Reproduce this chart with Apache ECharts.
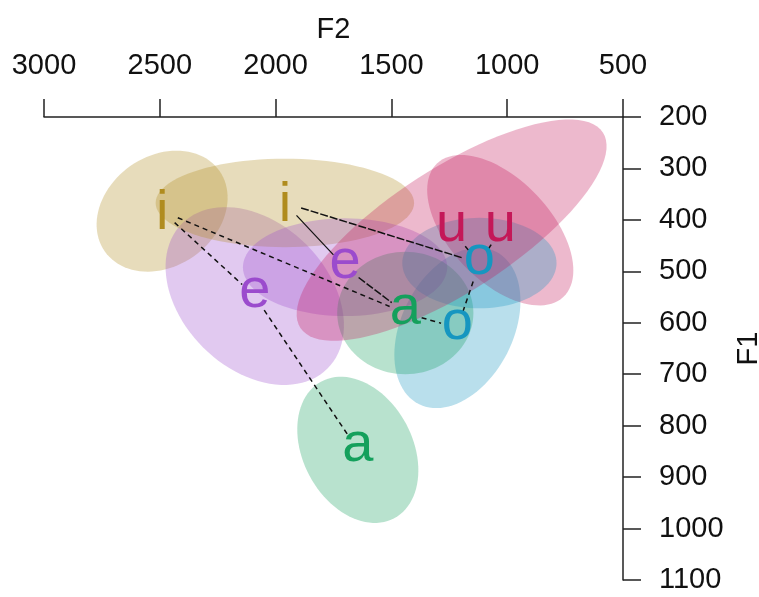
<!DOCTYPE html>
<html>
<head>
<meta charset="utf-8">
<script src="https://cdn.jsdelivr.net/npm/echarts@6/dist/echarts.min.js"></script>
<style>
  html, body { margin: 0; padding: 0; background: #fff; }
  #chart { width: 759px; height: 597px; }
</style>
</head>
<body>
<div id="chart"></div>
<script>
// Vowel space: mean F2/F1 per vowel for two sets (A and B)
const vowelLabels = ['i', 'e', 'a', 'o', 'u'];

const f2A = [2490, 2090, 1645, 1215, 1030];
const f1A = [383, 548, 847, 610, 420];
const f2B = [1960, 1700, 1440, 1120, 1240];
const f1B = [367, 492, 581, 484, 420];

// Ellipse half-axes (data units, [dF2, dF1]) per vowel
const majorA = [[-248, -78], [-314, 141], [-157, 133], [-167, -148], [-272, 130]];
const minorA = [[-136, 88], [223, 100], [-209, -50], [-215, 49], [160, 67]];
const majorB = [[-558, 0], [-441, 0], [-294, 0], [-333, 0], [-653, -190]];
const minorB = [[0, 86], [0, 95], [0, 119], [0, 88], [-146, 101]];

// Connections between vowel means: [set, index, set, index]
const dashedLinks = [
  ['A', 0, 'A', 1], ['A', 1, 'A', 2], ['A', 0, 'B', 2],
  ['B', 2, 'A', 3], ['A', 3, 'B', 3], ['B', 3, 'B', 4], ['B', 3, 'A', 4]
];
const longDashLinks = [['B', 0, 'B', 3], ['B', 1, 'B', 2]];
const solidLinks = [['B', 0, 'B', 1]];

// Axis ticks
const f2Ticks = [500, 3000, 500];   // min, max, step
const f1Ticks = [200, 1100, 100];

const vowelColors = {
  i: [176, 140, 30],
  e: [155, 75, 205],
  a: [20, 160, 92],
  o: [22, 150, 192],
  u: [196, 24, 88]
};

const sets = { A: { f2: f2A, f1: f1A }, B: { f2: f2B, f1: f1B } };
function pt(set, idx) { return [sets[set].f2[idx], sets[set].f1[idx]]; }

const ellipseData = [];
[['A', majorA, minorA], ['B', majorB, minorB]].forEach(([s, maj, min]) => {
  vowelLabels.forEach((v, k) => {
    const p = pt(s, k);
    ellipseData.push([p[0], p[1], maj[k][0], maj[k][1], min[k][0], min[k][1], k]);
  });
});

function linkData(list) {
  return list.map(l => { const a = pt(l[0], l[1]); const b = pt(l[2], l[3]); return [a[0], a[1], b[0], b[1]]; });
}

const labelData = [];
['A', 'B'].forEach(s => vowelLabels.forEach((v, k) => { const p = pt(s, k); labelData.push([p[0], p[1], k]); }));

function rgba(c, a) { return 'rgba(' + c[0] + ',' + c[1] + ',' + c[2] + ',' + a + ')'; }

function renderEllipse(params, api) {
  const cx = api.value(0), cy = api.value(1);
  const ax = api.value(2), ay = api.value(3), bx = api.value(4), by = api.value(5);
  const v = vowelLabels[api.value(6)];
  const pts = [];
  const n = 96;
  for (let i = 0; i < n; i++) {
    const t = i / n * Math.PI * 2;
    const c = Math.cos(t), s = Math.sin(t);
    pts.push(api.coord([cx + c * ax + s * bx, cy + c * ay + s * by]));
  }
  return { type: 'polygon', shape: { points: pts }, style: { fill: rgba(vowelColors[v], 0.3), stroke: null } };
}

function makeLinkRenderer(dash, width) {
  return function (params, api) {
    const p1 = api.coord([api.value(0), api.value(1)]);
    const p2 = api.coord([api.value(2), api.value(3)]);
    const dx = p2[0] - p1[0], dy = p2[1] - p1[1];
    const len = Math.sqrt(dx * dx + dy * dy);
    const gap = 17;
    const ux = dx / len, uy = dy / len;
    return {
      type: 'line',
      shape: { x1: p1[0] + ux * gap, y1: p1[1] + uy * gap, x2: p2[0] - ux * gap, y2: p2[1] - uy * gap },
      style: { stroke: '#111', lineWidth: width, lineDash: dash }
    };
  };
}

function renderLabel(params, api) {
  const p = api.coord([api.value(0), api.value(1)]);
  const v = vowelLabels[api.value(2)];
  const fs = 56;
  const shift = v === 'i' ? 0.05 * fs : -0.08 * fs;
  return {
    type: 'text',
    x: p[0], y: p[1] + shift,
    style: {
      text: v, fontSize: fs, fontFamily: 'Liberation Sans, Arial, sans-serif',
      fill: rgba(vowelColors[v], 1), align: 'center', verticalAlign: 'middle'
    }
  };
}

const chart = echarts.init(document.getElementById('chart'), null, { renderer: 'canvas' });
const axisFont = 'Liberation Sans, Arial, sans-serif';
chart.setOption({
  animation: false,
  backgroundColor: '#fff',
  grid: { left: 44, right: 136, top: 117, bottom: 17, outerBoundsMode: 'none', containLabel: false },
  xAxis: {
    type: 'value', position: 'top', inverse: true,
    min: f2Ticks[0], max: f2Ticks[1], interval: f2Ticks[2],
    name: 'F2', nameLocation: 'middle', nameGap: 73,
    nameTextStyle: { fontSize: 29, color: '#111', fontFamily: axisFont },
    axisLine: { show: true, lineStyle: { color: '#222', width: 1.5 } },
    axisTick: { show: true, inside: false, length: 18, lineStyle: { color: '#222', width: 1.5 } },
    axisLabel: { fontSize: 29, color: '#111', margin: 37, fontFamily: axisFont, formatter: v => String(v) },
    splitLine: { show: false }
  },
  yAxis: {
    type: 'value', position: 'right', inverse: true,
    min: f1Ticks[0], max: f1Ticks[1], interval: f1Ticks[2],
    name: 'F1', nameLocation: 'middle', nameGap: 104, nameRotate: 90,
    nameTextStyle: { fontSize: 29, color: '#111', fontFamily: axisFont },
    axisLine: { show: true, lineStyle: { color: '#222', width: 1.5 } },
    axisTick: { show: true, inside: false, length: 18, lineStyle: { color: '#222', width: 1.5 } },
    axisLabel: { fontSize: 29, color: '#111', margin: 36, align: 'left', fontFamily: axisFont, formatter: v => String(v) },
    splitLine: { show: false }
  },
  series: [
    { type: 'custom', renderItem: renderEllipse, data: ellipseData, silent: true, z: 1 },
    { type: 'custom', renderItem: makeLinkRenderer([5, 4], 1.5), data: linkData(dashedLinks), silent: true, z: 2 },
    { type: 'custom', renderItem: makeLinkRenderer([8, 2], 1.5), data: linkData(longDashLinks), silent: true, z: 2 },
    { type: 'custom', renderItem: makeLinkRenderer(null, 1.2), data: linkData(solidLinks), silent: true, z: 2 },
    { type: 'custom', renderItem: renderLabel, data: labelData, silent: true, z: 3 }
  ]
});
</script>
</body>
</html>
